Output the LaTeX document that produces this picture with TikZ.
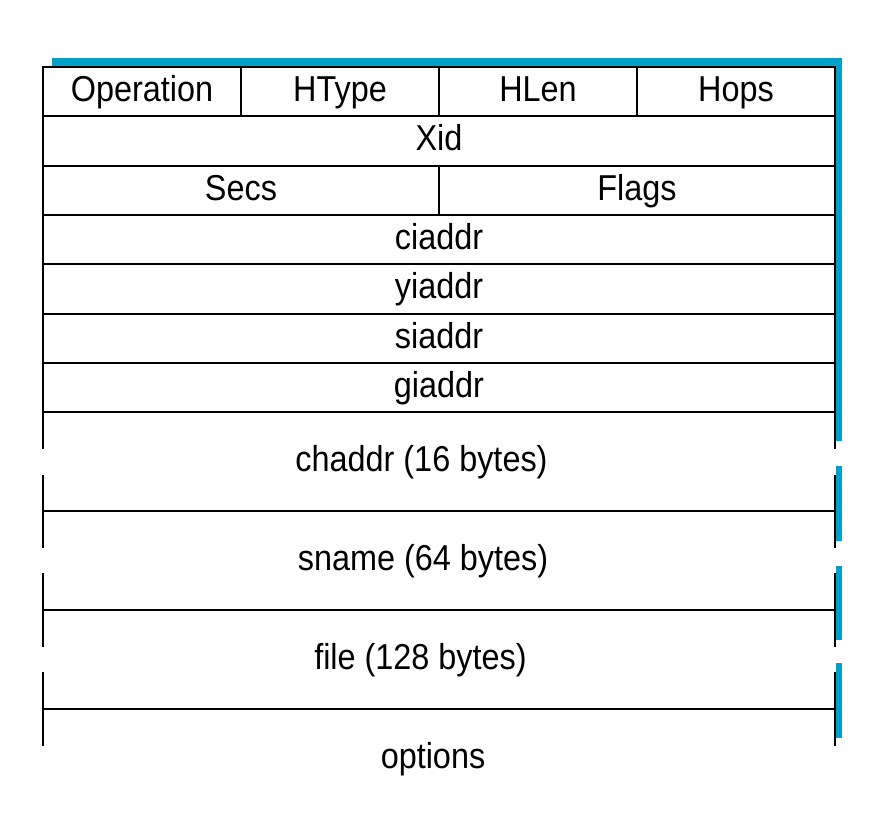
\documentclass[tikz,border=0pt]{standalone}
\usepackage{fontspec}
\setmainfont[FakeStretch=0.9]{Liberation Sans}
\definecolor{shadowblue}{RGB}{0,160,200}
\tikzset{
  field/.style={draw, rectangle, line width=2pt, minimum height=49.3pt, inner sep=0pt, outer sep=0pt,
    text height=27pt, text depth=7pt, font=\fontsize{36}{40}\selectfont},
  fieldtext/.style={inner sep=0pt, text height=27pt, text depth=7pt, font=\fontsize{36}{40}\selectfont}
}
\begin{document}
\begin{tikzpicture}[x=1pt, y=-1pt, node distance=49.3pt]
  \useasboundingbox (0,0) rectangle (884,814);
  % blue shadow
  \fill[shadowblue] (52,58) rectangle (842,67);
  \foreach \ys/\ye in {58/441, 466/541, 566/640, 663/738}
    \fill[shadowblue] (836,\ys) rectangle (842,\ye);

  \node[field, minimum width=198pt] (op) at (142,91.65) {Operation};
  \node[field, minimum width=198pt] (htype) at (340,91.65) {HType};
  \node[field, minimum width=198pt] (hlen) at (538,91.65) {HLen};
  \node[field, minimum width=198pt] (hops) at (736,91.65) {Hops};
  \node[field, minimum width=792pt] (xid) at (439,140.95) {Xid};
  \node[field, minimum width=396pt] (secs) at (241,190.25) {Secs};
  \node[field, minimum width=396pt] (flags) at (637,190.25) {Flags};
  \node[field, minimum width=792pt] (ciaddr) at (439,239.55) {ciaddr};
  \node[field, minimum width=792pt, below of=ciaddr] (yiaddr) {yiaddr};
  \node[field, minimum width=792pt, below of=yiaddr] (siaddr) {siaddr};
  \node[field, minimum width=792pt, below of=siaddr] (giaddr) {giaddr};

  \node[fieldtext] (chaddr) at (421.5,461.5) {chaddr (16 bytes)};
  \node[fieldtext] (sname) at (423,560.5) {sname (64 bytes)};
  \node[fieldtext] (file) at (420.5,659.5) {file (128 bytes)};
  \node[fieldtext] (options) at (433,758) {options};

  % open rows
  \foreach \y in {511, 610, 709}
    \draw[line width=2pt] (43,\y) -- (835,\y);
  \foreach \ys/\ye in {412/449, 475/548, 573/647, 672/746} {
    \draw[line width=2pt] (43,\ys) -- (43,\ye);
    \draw[line width=2pt] (835,\ys) -- (835,\ye);
  }
\end{tikzpicture}
\end{document}
